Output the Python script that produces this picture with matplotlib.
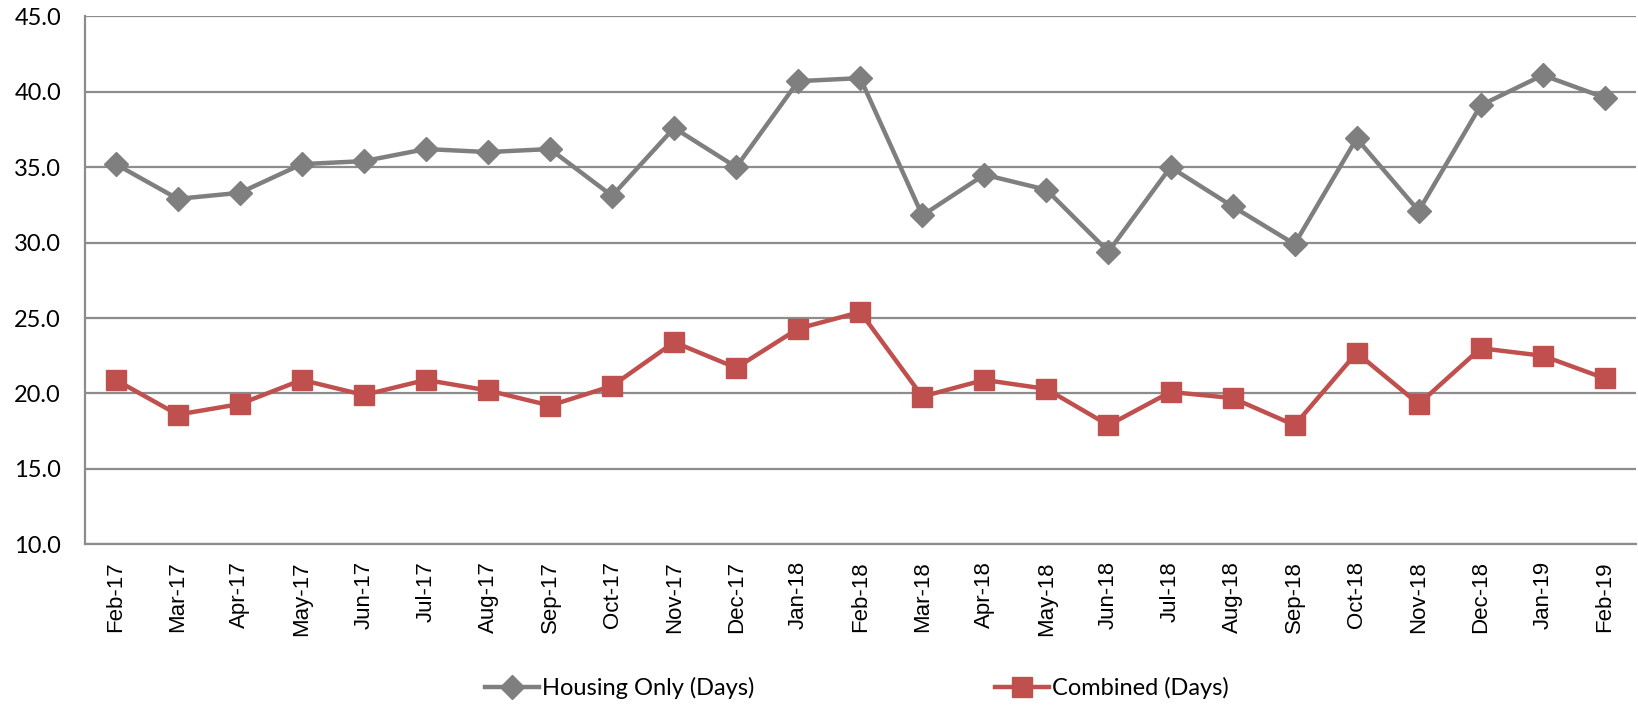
import matplotlib.pyplot as plt

months = ["Feb-17", "Mar-17", "Apr-17", "May-17", "Jun-17", "Jul-17", "Aug-17", "Sep-17",
          "Oct-17", "Nov-17", "Dec-17", "Jan-18", "Feb-18", "Mar-18", "Apr-18", "May-18",
          "Jun-18", "Jul-18", "Aug-18", "Sep-18", "Oct-18", "Nov-18", "Dec-18", "Jan-19", "Feb-19"]
housing_only = [35.2, 32.9, 33.3, 35.2, 35.4, 36.2, 36.0, 36.2, 33.1, 37.6, 35.0, 40.7, 40.9,
                31.8, 34.5, 33.5, 29.4, 35.0, 32.4, 29.9, 36.9, 32.1, 39.1, 41.1, 39.6]
combined = [20.9, 18.6, 19.3, 20.9, 19.9, 20.9, 20.2, 19.2, 20.5, 23.4, 21.7, 24.3, 25.4,
            19.8, 20.9, 20.3, 17.9, 20.1, 19.7, 17.9, 22.7, 19.3, 23.0, 22.5, 21.0]
y_ticks = [10, 15, 20, 25, 30, 35, 40, 45]

plt.rcParams["font.family"] = ["Lato", "DejaVu Sans"]

fig = plt.figure(figsize=(16.38, 7.07), dpi=100)
ax = fig.add_axes([0.0517, 0.230, 0.947, 0.747])

x = list(range(len(months)))
ax.plot(x, housing_only, color="#7f7f7f", lw=3.2, marker="D", markersize=12,
        label="Housing Only (Days)", zorder=3)
ax.plot(x, combined, color="#c0504d", lw=3.2, marker="s", markersize=14,
        label="Combined (Days)", zorder=3)

ax.set_xlim(-0.5, len(months) - 0.5)
ax.set_ylim(10, 45)
ax.set_yticks(y_ticks)
ax.set_yticklabels([f"{v:.1f}" for v in y_ticks], fontsize=17)
ax.set_xticks(x)
ax.set_xticklabels(months, rotation=90, fontsize=16, family="Liberation Sans")
ax.tick_params(axis="x", length=0, pad=12)
ax.tick_params(axis="y", length=0, pad=17)

ax.grid(axis="y", color="#8c8c8c", lw=1.6)
ax.set_axisbelow(True)
for side in ["top", "right"]:
    ax.spines[side].set_visible(False)
for side in ["left", "bottom"]:
    ax.spines[side].set_color("#8c8c8c")
    ax.spines[side].set_linewidth(1.6)

fig.legend(loc="center", bbox_to_anchor=(0.523, 0.027), ncol=2, frameon=False,
           fontsize=17, columnspacing=10.2, handlelength=2.3, handletextpad=0.1)

fig.savefig("out.png", dpi=100)
